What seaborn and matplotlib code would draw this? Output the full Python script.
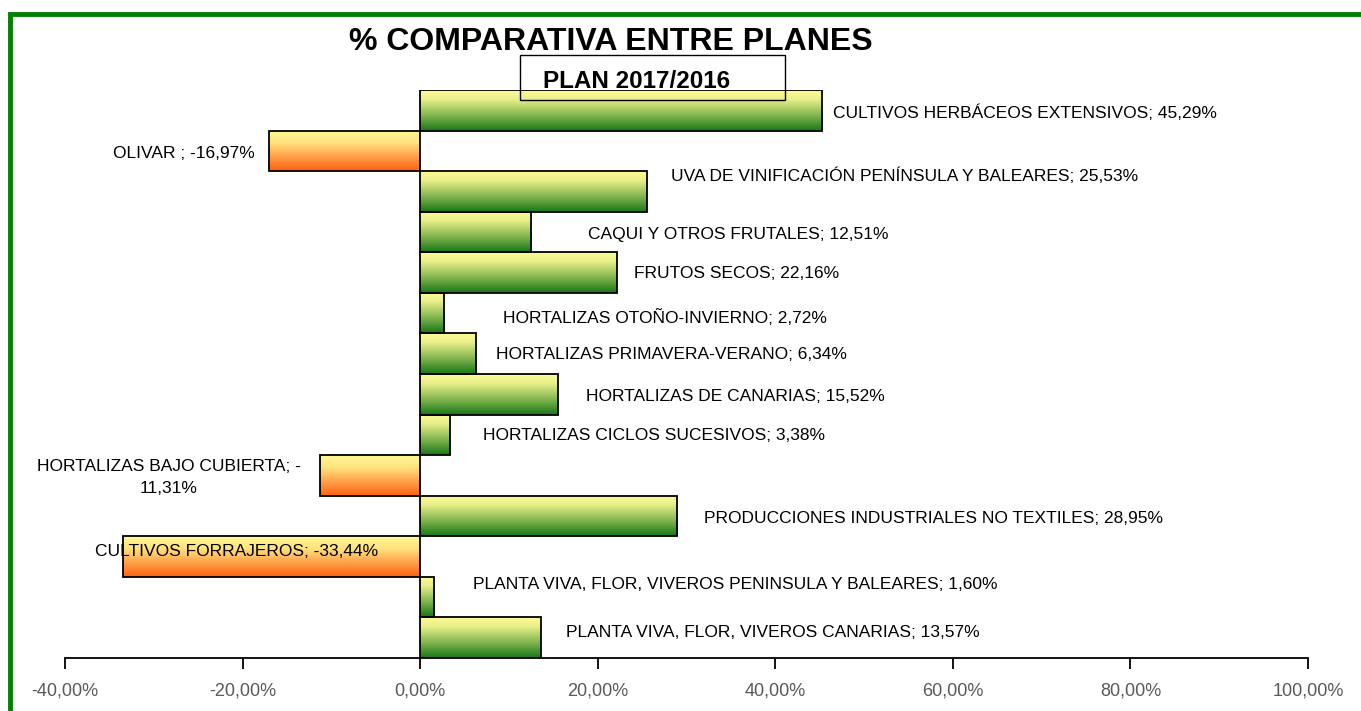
import numpy as np
import pandas as pd
import seaborn as sns
import matplotlib.pyplot as plt
from matplotlib.patches import Rectangle
from matplotlib.colors import LinearSegmentedColormap

# datos: variación % plan 2017 respecto a 2016
cultivos = [
    "CULTIVOS HERBÁCEOS EXTENSIVOS",
    "OLIVAR ",
    "UVA DE VINIFICACIÓN PENÍNSULA Y BALEARES",
    "CAQUI Y OTROS FRUTALES",
    "FRUTOS SECOS",
    "HORTALIZAS OTOÑO-INVIERNO",
    "HORTALIZAS PRIMAVERA-VERANO",
    "HORTALIZAS DE CANARIAS",
    "HORTALIZAS CICLOS SUCESIVOS",
    "HORTALIZAS BAJO CUBIERTA",
    "PRODUCCIONES INDUSTRIALES NO TEXTILES",
    "CULTIVOS FORRAJEROS",
    "PLANTA VIVA, FLOR, VIVEROS PENINSULA Y BALEARES",
    "PLANTA VIVA, FLOR, VIVEROS CANARIAS",
]
variacion = [45.29, -16.97, 25.53, 12.51, 22.16, 2.72, 6.34,
             15.52, 3.38, -11.31, 28.95, -33.44, 1.60, 13.57]
ticks_x = [-40, -20, 0, 20, 40, 60, 80, 100]

# posición de las etiquetas (en % del eje x) y desplazamiento vertical
etiq_x = [46.5, -18.6, 28.3, 18.9, 24.1, 9.35, 8.55, 18.7, 7.1, -28.3, 32.0, -36.6, 5.95, 16.4]
etiq_ha = ["left", "right", "left", "left", "left", "left", "left", "left",
           "left", "center", "left", "left", "left", "left"]
etiq_dy = [0.05, 0.07, -0.39, 0.07, 0.02, 0.1, 0.02, 0.05, 0.02, 0.05, 0.07, -0.12, -0.32, -0.12]


def fmt_pct(v):
    return f"{v:.2f}%".replace(".", ",")


df = pd.DataFrame({"cultivo": cultivos, "variacion": variacion})

sns.set_style("white")
plt.rcParams["font.family"] = ["Liberation Sans", "DejaVu Sans"]

fig = plt.figure(figsize=(13.61, 7.11), dpi=100)
ax = fig.add_axes([65 / 1361, 1 - 658 / 711, (1308 - 65) / 1361, (658 - 90) / 711])

sns.barplot(data=df, x="variacion", y="cultivo", orient="h", width=1.0,
            color="white", edgecolor="black", linewidth=1.3, ax=ax)

# degradados: amarillo arriba, verde / naranja abajo
verde = LinearSegmentedColormap.from_list(
    "verde", [(0, "#FCFA96"), (0.22, "#EAF08A"), (0.6, "#88B852"), (1, "#187818")])
naranja = LinearSegmentedColormap.from_list(
    "naranja", [(0, "#FFF893"), (0.3, "#FFE27E"), (0.65, "#FFA04A"), (1, "#FF6210")])
grad = np.linspace(0, 1, 64).reshape(-1, 1)

for patch, v in zip(ax.patches, variacion):
    bb = patch.get_bbox()
    x0, x1 = sorted([bb.x0, bb.x1])
    y0, y1 = sorted([bb.y0, bb.y1])
    im = ax.imshow(grad, cmap=verde if v >= 0 else naranja, aspect="auto",
                   extent=(x0, x1, y1, y0), origin="upper", zorder=2)
    im.set_clip_path(patch)
    patch.set_facecolor("none")
    patch.set_zorder(3)

ax.set_xlim(-40, 100)
ax.set_ylim(len(cultivos) - 0.5, -0.5)

# etiquetas de datos
for i, (c, v) in enumerate(zip(cultivos, variacion)):
    txt = f"{c}; {fmt_pct(v)}"
    if c == "HORTALIZAS BAJO CUBIERTA":
        txt = f"{c}; -\n{fmt_pct(abs(v))}"
    ax.text(etiq_x[i], i + etiq_dy[i], txt, ha=etiq_ha[i], va="center",
            fontsize=12.5, color="black", zorder=5, linespacing=1.6)

ax.set_xticks(ticks_x)
ax.set_xticklabels([fmt_pct(t) for t in ticks_x], fontsize=13, color="#595959")
ax.tick_params(axis="x", bottom=True, direction="out", length=8, width=1.3,
               color="black", pad=10)
ax.set_yticks([])
ax.set_xlabel("")
ax.set_ylabel("")
for s in ["left", "right", "top"]:
    ax.spines[s].set_visible(False)
ax.spines["bottom"].set_color("black")
ax.spines["bottom"].set_linewidth(1.3)

# títulos
fig.text(611 / 1361, 1 - 42 / 711, "% COMPARATIVA ENTRE PLANES", ha="center", va="center",
         fontsize=23, fontweight="bold", color="black")
fig.add_artist(Rectangle((520 / 1361, 1 - 100 / 711), 265 / 1361, 45 / 711,
                         transform=fig.transFigure, fill=False, edgecolor="black",
                         linewidth=1, zorder=6))
fig.text(637 / 1361, 1 - 82 / 711, "PLAN 2017/2016", ha="center", va="center",
         fontsize=17.5, fontweight="bold", color="black", zorder=7)

# marco verde
fig.add_artist(Rectangle((10 / 1361, -0.1), 1.2, 1.1 - 14 / 711,
                         transform=fig.transFigure, fill=False, edgecolor="#008000",
                         linewidth=3.5))

fig.savefig("out.png", dpi=100)
